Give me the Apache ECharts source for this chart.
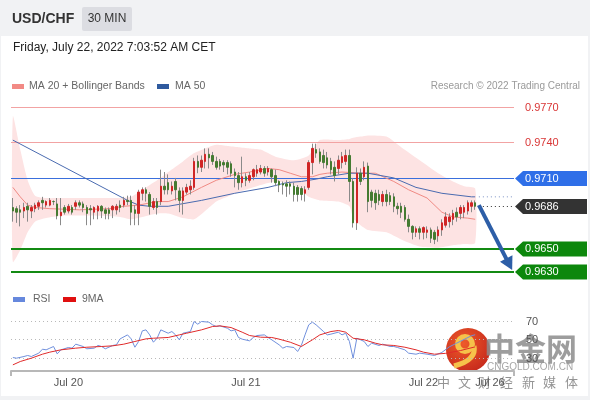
<!DOCTYPE html>
<html><head><meta charset="utf-8">
<script src="https://cdn.jsdelivr.net/npm/echarts@6/dist/echarts.min.js"></script>
<style>
html,body{margin:0;padding:0;background:#f1f2f4;}
#wrap{position:relative;width:590px;height:400px;overflow:hidden;}
#card{position:absolute;left:1px;top:36px;width:587px;height:360px;background:#fff;}
#c{position:absolute;left:0;top:0;width:590px;height:400px;}
</style>
</head><body>
<div id="wrap"><div id="card"></div><div id="c"></div></div>
<script>
// ---------- DATA ----------
// candles: [open, close, low, high]
const candles = [
[.9685,.9682,.9673,.9693],[.9684,.9681,.9672,.9686],[.9683,.9681,.9669,.9687],[.9682,.9685,.9676,.9689],
[.9686,.9683,.9673,.9689],[.9682,.9685,.9676,.9687],[.9684,.9687,.9681,.9689],[.9686,.9689,.9683,.9691],
[.9691,.9689,.9683,.9694],[.9687,.9690,.9685,.9691],[.9687,.9691,.9686,.9693],[.9690,.9690,.9687,.9691],
[.9688,.9678,.9675,.9693],[.9678,.9681,.9670,.9693],[.9685,.9681,.9679,.9687],[.9682,.9686,.9680,.9688],
[.9685,.9681,.9679,.9687],[.9686,.9689,.9683,.9691],[.9689,.9687,.9685,.9691],[.9688,.9685,.9681,.9690],
[.9685,.9680,.9670,.9687],[.9684,.9683,.9670,.9687],[.9681,.9685,.9675,.9686],[.9682,.9686,.9675,.9687],
[.9686,.9682,.9676,.9687],[.9683,.9680,.9675,.9685],[.9683,.9680,.9675,.9685],[.9683,.9686,.9676,.9687],
[.9683,.9686,.9679,.9688],[.9687,.9685,.9681,.9691],[.9687,.9691,.9685,.9694],[.9691,.9690,.9687,.9695],
[.9691,.9681,.9670,.9695],[.9683,.9680,.9670,.9687],[.9680,.9698,.9670,.9700],[.9697,.9700,.9691,.9702],
[.9700,.9697,.9690,.9702],[.9696,.9686,.9679,.9698],[.9685,.9690,.9683,.9693],[.9690,.9685,.9679,.9693],
[.9690,.9703,.9687,.9717],[.9703,.9700,.9696,.9715],[.9706,.9700,.9696,.9713],[.9699,.9703,.9696,.9707],
[.9707,.9700,.9691,.9710],[.9699,.9691,.9681,.9702],[.9691,.9699,.9679,.9702],[.9698,.9702,.9696,.9705],
[.9700,.9703,.9696,.9708],[.9702,.9724,.9700,.9727],[.9724,.9719,.9714,.9729],[.9719,.9725,.9715,.9729],
[.9724,.9730,.9718,.9735],[.9730,.9727,.9718,.9735],[.9729,.9724,.9721,.9732],[.9724,.9719,.9717,.9728],
[.9724,.9720,.9717,.9726],[.9723,.9721,.9715,.9725],[.9723,.9719,.9713,.9725],[.9722,.9714,.9711,.9724],
[.9715,.9712,.9702,.9718],[.9712,.9706,.9700,.9715],[.9706,.9711,.9702,.9728],[.9711,.9708,.9703,.9714],
[.9708,.9712,.9706,.9715],[.9711,.9717,.9708,.9718],[.9714,.9717,.9711,.9721],[.9715,.9718,.9713,.9721],
[.9718,.9714,.9711,.9720],[.9715,.9718,.9712,.9720],[.9717,.9711,.9706,.9718],[.9712,.9706,.9703,.9717],
[.9707,.9704,.9698,.9708],[.9705,.9704,.9696,.9707],[.9705,.9703,.9694,.9708],[.9705,.9703,.9696,.9707],
[.9703,.9696,.9690,.9706],[.9702,.9696,.9690,.9704],[.9701,.9696,.9691,.9703],[.9697,.9700,.9690,.9703],
[.9702,.9723,.9700,.9725],[.9723,.9735,.9713,.9739],[.9734,.9731,.9727,.9739],[.9732,.9724,.9722,.9735],
[.9729,.9723,.9718,.9734],[.9727,.9721,.9718,.9732],[.9724,.9717,.9713,.9727],[.9719,.9712,.9707,.9724],
[.9718,.9725,.9713,.9729],[.9723,.9728,.9718,.9732],[.9724,.9729,.9721,.9734],[.9729,.9707,.9690,.9734],
[.9707,.9672,.9668,.9710],[.9672,.9714,.9666,.9719],[.9714,.9707,.9704,.9718],[.9711,.9719,.9708,.9724],
[.9720,.9690,.9681,.9723],[.9698,.9691,.9685,.9700],[.9697,.9689,.9683,.9700],[.9696,.9691,.9687,.9700],
[.9690,.9696,.9686,.9699],[.9696,.9690,.9686,.9700],[.9695,.9690,.9687,.9698],[.9694,.9686,.9681,.9697],
[.9686,.9684,.9679,.9689],[.9686,.9681,.9676,.9689],[.9685,.9675,.9673,.9687],[.9675,.9669,.9664,.9679],
[.9669,.9664,.9658,.9670],[.9664,.9667,.9660,.9669],[.9667,.9664,.9658,.9669],[.9664,.9668,.9658,.9669],
[.9664,.9666,.9659,.9669],[.9666,.9659,.9655,.9668],[.9664,.9658,.9654,.9666],[.9661,.9666,.9656,.9669],
[.9666,.9672,.9661,.9675],[.9670,.9677,.9668,.9681],[.9673,.9677,.9668,.9680],[.9675,.9680,.9670,.9683],
[.9681,.9677,.9673,.9685],[.9680,.9685,.9675,.9687],[.9681,.9685,.9676,.9687],[.9682,.9689,.9679,.9691],
[.9686,.9689,.9681,.9691],[.9689,.9686,.9683,.9691]
];
// Bollinger bands read at these bar indices
const bandIdx   = [0,2,4,6,9,13,24,29,32,35,39,42,46,49,52,55,58,61,64,67,71,76,80,83,88,91,92,94,96,101,105,110,115,119,122,125];
const upperBand = [.9762,.9734,.9708,.9695,.9693,.9693,.9693,.9693,.9694,.9700,.9708,.9715,.9724,.9731,.9735,.9738,.9737,.9736,.9735,.9734,.9728,.9725,.9729,.9742,.9742,.9743,.9744,.9745,.9746,.9745,.9736,.9725,.9714,.9707,.9703,.9701];
const lowerBand = [.9639,.9649,.9664,.9673,.9676,.9678,.9678,.9677,.9675,.9677,.9680,.9680,.9676,.9675,.9682,.9690,.9694,.9698,.9701,.9704,.9707,.9704,.9694,.9691,.9690,.9686,.9676,.9670,.9666,.9664,.9658,.9652,.9651,.9653,.9654,.9655];
const ma20Idx = [0,2,4,6,10,18,26,30,34,39,42,46,51,55,60,64,69,72,75,78,81,83,85,89,94,98,103,107,112,116,119,123,125];
const ma20    = [.9702,.9694,.9687,.9685,.9684,.9683,.9684,.9686,.9687,.9690,.9690,.9694,.9702,.9708,.9713,.9715,.9718,.9717,.9714,.9711,.9711,.9713,.9714,.9715,.9714,.9714,.9707,.9700,.9693,.9681,.9677,.9676,.9675];
const ma50Idx = [0,31,34,37,42,51,60,69,74,78,82,85,91,96,103,109,116,124,125];
const ma50    = [.9742,.9691,.9687,.9686,.9686,.9691,.9697,.9702,.9706,.9707,.9709,.9711,.9714,.9714,.9710,.9702,.9697,.9694,.9694];
const rsiIdx = [0,1,3,4,5,7,8,9,10,11,12,13,15,16,17,19,20,22,23,24,25,27,28,29,31,32,33,34,35,36,37,38,39,40,42,43,44,45,46,48,49,50,51,53,54,55,56,58,59,60,61,62,64,65,66,68,69,70,72,73,74,76,77,78,79,80,81,82,84,85,86,88,89,90,91,92,93,94,95,96,97,99,100,102,103,104,106,107,109,110,112,114,116,118,120,122,124,125];
const rsi    = [30.5,29.8,31.6,32.7,31.6,35.2,39.5,38.8,40.6,42.4,34.5,38.8,41.3,40.6,44.9,42.4,39.9,40.6,43.5,42.4,39.9,43.5,44.2,50.6,54.9,50.6,41.6,47.8,59.2,60.3,54.9,47.0,51.3,60.3,56.7,58.5,54.9,49.6,56.7,58.5,69.3,66.4,69.3,68.6,65.7,63.9,64.6,62.1,59.2,60.3,52.1,50.3,48.5,52.1,54.2,54.9,52.1,49.6,44.2,40.6,42.4,41.3,37.0,43.5,54.9,65.7,68.6,65.7,58.5,54.9,55.7,57.8,54.9,56.7,47.8,29.8,51.3,49.6,47.8,42.4,46.0,43.5,44.9,42.4,42.4,41.3,38.8,35.2,34.1,35.2,34.1,32.7,36,42,46,50,54,55];
const rsiMaIdx = [0,2,5,8,10,13,17,20,24,27,30,33,36,38,42,45,47,51,54,56,59,62,64,67,70,72,75,78,81,83,86,88,90,92,95,98,100,103,106,109,111,114,117,121,125];
const rsiMa    = [22.6,26.2,29.8,34.1,36.3,38.8,40.6,41.6,42.4,43.1,44.9,47.8,50.6,51.3,52.1,54.9,56.7,60.3,63.9,64.6,62.8,57.8,54.2,52.4,52.1,50.3,47.0,42.4,49.6,54.9,58.5,59.6,57.8,51.3,49.6,46.0,44.2,43.5,41.6,38.8,36.3,34.1,35,38,42];
const dayLabels = ['Jul 20','Jul 21','Jul 22','Jul 26'];
const dayIdx    = [15,63,111,129];
const levels     = [0.9770,0.9740,0.9710,0.9686,0.9650,0.9630];
const levelKinds = ['res','res','ma','last','sup','sup'];
const rsiLevels  = [70,50,30];
const forecast   = [[126,0.9687],[135,0.9632]];
const N = 136;

// ---------- CHART ----------
const FONT = '"Liberation Sans", Arial, sans-serif';
const cats = Array.from({length:N},(_,i)=>String(i));
const bodies = candles.map(d=>[d[0],d[1],Math.min(d[0],d[1]),Math.max(d[0],d[1])]);
const pairs = (ix,v)=>ix.map((x,i)=>[x,v[i]]);
const ma50Last = ma50[ma50.length-1];

const chart = echarts.init(document.getElementById('c'), null, {renderer:'canvas', width:590, height:400});

function bandItem(params, api){
  const pts=[];
  for(let i=0;i<bandIdx.length;i++) pts.push(api.coord([bandIdx[i],upperBand[i]]));
  for(let i=bandIdx.length-1;i>=0;i--) pts.push(api.coord([bandIdx[i],lowerBand[i]]));
  return {type:'polygon', shape:{points:pts, smooth:0.2}, style:{fill:'#fde3e3', stroke:null}};
}
function tagShape(x1,y,fill){
  return {type:'polygon', shape:{points:[[x1+1,y],[x1+9,y-7.5],[x1+73,y-7.5],[x1+73,y+7.5],[x1+9,y+7.5]]}, style:{fill:fill}};
}
function levelItem(params, api){
  const cs=params.coordSys; const v=api.value(1);
  const kind=levelKinds[params.dataIndex];
  const x0=cs.x, x1=cs.x+cs.width;
  let y=api.coord([0,v])[1];
  const ch=[];
  const txt = v.toFixed(4);
  if(kind==='res'){
    y=Math.round(y)+0.5;
    ch.push({type:'line',shape:{x1:x0,y1:y,x2:x1,y2:y},style:{stroke:'#f2a3a3',lineWidth:1}});
    ch.push({type:'text',x:x1+11,y:y,style:{text:txt,fill:'#d93636',font:'11px '+FONT,verticalAlign:'middle'}});
  } else if(kind==='ma'){
    y=Math.round(y)+0.5;
    ch.push({type:'line',shape:{x1:x0,y1:y,x2:x1,y2:y},style:{stroke:'#3a6fdc',lineWidth:1}});
    ch.push(tagShape(x1,y,'#2f6fe8'));
    ch.push({type:'text',x:x1+11,y:y,style:{text:txt,fill:'#fff',font:'11px '+FONT,verticalAlign:'middle'}});
  } else if(kind==='last'){
    y=Math.round(y)+0.5;
    const xs=api.coord([126,v])[0];
    ch.push({type:'line',shape:{x1:xs,y1:y,x2:x1,y2:y},style:{stroke:'#333',lineWidth:1,lineDash:[1,3]}});
    ch.push(tagShape(x1,y,'#333333'));
    ch.push({type:'text',x:x1+11,y:y,style:{text:txt,fill:'#fff',font:'11px '+FONT,verticalAlign:'middle'}});
  } else {
    y=Math.round(y);
    ch.push({type:'line',shape:{x1:x0,y1:y,x2:x1,y2:y},style:{stroke:'#138a13',lineWidth:2}});
    ch.push(tagShape(x1,y,'#0c870c'));
    ch.push({type:'text',x:x1+11,y:y,style:{text:txt,fill:'#fff',font:'11px '+FONT,verticalAlign:'middle'}});
  }
  return {type:'group',children:ch};
}
function arrowItem(params, api){
  const p0=api.coord(forecast[0]), p1=api.coord(forecast[1]);
  const dx=p1[0]-p0[0], dy=p1[1]-p0[1], L=Math.hypot(dx,dy);
  const ux=dx/L, uy=dy/L, nx=-uy, ny=ux;
  const hl=13, hw=7;
  const bx=p1[0]-ux*hl, by=p1[1]-uy*hl;
  return {type:'group',children:[
    {type:'line',shape:{x1:p0[0],y1:p0[1],x2:bx+ux*2,y2:by+uy*2},style:{stroke:'#2d5ea7',lineWidth:4}},
    {type:'polygon',shape:{points:[[p1[0],p1[1]],[bx+nx*hw,by+ny*hw],[bx-nx*hw,by-ny*hw]]},style:{fill:'#2d5ea7'}}
  ]};
}
function rsiLevelItem(params, api){
  const cs=params.coordSys; const v=api.value(1);
  const x0=cs.x, x1=cs.x+cs.width;
  const y=Math.round(api.coord([0,v])[1])+0.5;
  return {type:'group',children:[
    {type:'line',shape:{x1:x0,y1:y,x2:x1-2,y2:y},style:{stroke:'#b9b9b9',lineWidth:1,lineDash:[1,3]}},
    {type:'text',x:x1+12,y:y,style:{text:String(v),fill:'#555',font:'11px '+FONT,verticalAlign:'middle'}}
  ]};
}

const option = {
  animation:false,
  backgroundColor:'transparent',
  grid:[
    {left:11,right:76,top:95.2,height:189.1},
    {left:11,right:76,top:293,height:78}
  ],
  xAxis:[
    {type:'category',gridIndex:0,data:cats,boundaryGap:true,show:false},
    {type:'category',gridIndex:1,data:cats,boundaryGap:true,
      axisLine:{show:true,lineStyle:{color:'#b8b8b8',width:2}},
      axisTick:{show:true,interval:(i)=>i===0,length:5,lineStyle:{color:'#b8b8b8',width:2}},
      axisLabel:{show:true,interval:(i)=>dayIdx.indexOf(i)>=0,margin:6,color:'#555',fontSize:11,fontFamily:FONT,
        formatter:(v)=>{const k=dayIdx.indexOf(+v);return k>=0?dayLabels[k]:'';}},
      splitLine:{show:false}}
  ],
  yAxis:[
    {type:'value',gridIndex:0,min:0.9620,max:0.9780,show:false},
    {type:'value',gridIndex:1,min:16,max:100,show:false}
  ],
  series:[
    {type:'custom',name:'band',xAxisIndex:0,yAxisIndex:0,data:[[0,0.97]],renderItem:bandItem,z:1,silent:true},
    {type:'custom',name:'levels',xAxisIndex:0,yAxisIndex:0,data:levels.map(v=>[0,v]),renderItem:levelItem,z:2,silent:true},
    {type:'line',name:'MA 20',xAxisIndex:0,yAxisIndex:0,data:pairs(ma20Idx,ma20),symbol:'none',lineStyle:{color:'#f08a84',width:1},z:3,silent:true},
    {type:'line',name:'MA 50',xAxisIndex:0,yAxisIndex:0,data:pairs(ma50Idx,ma50),symbol:'none',lineStyle:{color:'#4a6bb0',width:1},z:3,silent:true},
    {type:'line',name:'MA 50 ext',xAxisIndex:0,yAxisIndex:0,data:[[126,ma50Last],[135,ma50Last]],symbol:'none',lineStyle:{color:'#7a90c4',width:1,type:[1,3]},z:3,silent:true},
    {type:'candlestick',name:'wick',xAxisIndex:0,yAxisIndex:0,data:candles,barWidth:0.1,z:4,silent:true,
      itemStyle:{color:'#8a8a8a',color0:'#8a8a8a',borderColor:'#8a8a8a',borderColor0:'#8a8a8a',borderWidth:1}},
    {type:'candlestick',name:'body',xAxisIndex:0,yAxisIndex:0,data:bodies,barWidth:2,z:5,silent:true,
      itemStyle:{color:'#d02626',color0:'#457b32',borderColor:'#d02626',borderColor0:'#457b32',borderWidth:1}},
    {type:'custom',name:'arrow',xAxisIndex:0,yAxisIndex:0,data:[[0,0.97]],renderItem:arrowItem,z:6,silent:true},
    {type:'custom',name:'rsiLevels',xAxisIndex:1,yAxisIndex:1,data:rsiLevels.map(v=>[0,v]),renderItem:rsiLevelItem,z:1,silent:true},
    {type:'line',name:'RSI',xAxisIndex:1,yAxisIndex:1,data:pairs(rsiIdx,rsi),symbol:'none',lineStyle:{color:'#6f8fdc',width:1},z:3,silent:true},
    {type:'line',name:'9MA',xAxisIndex:1,yAxisIndex:1,data:pairs(rsiMaIdx,rsiMa),symbol:'none',lineStyle:{color:'#e02a2a',width:1},z:4,silent:true}
  ],
  graphic:[
    {type:'text',left:12,top:12,style:{text:'USD/CHF',font:'bold 14px '+FONT,fill:'#333'}},
    {type:'rect',shape:{x:82,y:7,width:50,height:24,r:2},style:{fill:'#dcdde2'}},
    {type:'text',x:107,y:19,style:{text:'30 MIN',font:'12px '+FONT,fill:'#333',align:'center',verticalAlign:'middle'}},
    {type:'text',x:13,y:48,style:{text:'Friday, July 22, 2022 7:03:52 AM CET',font:'12px '+FONT,fill:'#222',verticalAlign:'middle'}},
    {type:'rect',shape:{x:12,y:84,width:12,height:5},style:{fill:'#f28a85'}},
    {type:'text',x:29,y:86.5,style:{text:'MA 20 + Bollinger Bands',font:'10.5px '+FONT,fill:'#666',verticalAlign:'middle'}},
    {type:'rect',shape:{x:157,y:84,width:12,height:5},style:{fill:'#2f5a9e'}},
    {type:'text',x:175,y:86.5,style:{text:'MA 50',font:'10.5px '+FONT,fill:'#666',verticalAlign:'middle'}},
    {type:'text',x:580,y:86.5,style:{text:'Research \u00a9 2022 Trading Central',font:'10px '+FONT,fill:'#9a9a9a',align:'right',verticalAlign:'middle'}},
    {type:'rect',shape:{x:13,y:297,width:12,height:5},style:{fill:'#6688dd'}},
    {type:'text',x:33,y:299.5,style:{text:'RSI',font:'10.5px '+FONT,fill:'#666',verticalAlign:'middle'}},
    {type:'rect',shape:{x:63,y:297,width:13,height:5},style:{fill:'#e01010'}},
    {type:'text',x:82,y:299.5,style:{text:'9MA',font:'10.5px '+FONT,fill:'#666',verticalAlign:'middle'}},
    // watermark
    {type:'group',z:100,children:[
      {type:'circle',shape:{cx:468,cy:350,r:22},style:{fill:new echarts.graphic.RadialGradient(0.4,0.35,0.8,[{offset:0,color:'#ee5a2a'},{offset:1,color:'#c0221a'}])}},
      {type:'ring',shape:{cx:465,cy:344,r:10,r0:4.5},style:{fill:'#f6c24a'}},
      {type:'bezierCurve',shape:{x1:474,y1:346,x2:454,y2:366,cpx1:477,cpy1:360},style:{stroke:'#f6c24a',lineWidth:5,fill:null}},
      {type:'text',x:484,y:348,style:{text:'中金网',font:'bold 31px "Noto Sans CJK SC"',fill:'rgba(140,140,140,0.85)',verticalAlign:'middle'}},
      {type:'text',x:487,y:367,style:{text:'CNGOLD.COM.CN',font:'10px '+FONT,fill:'rgba(150,150,150,0.85)',verticalAlign:'middle'}},
      {type:'text',x:437,y:382,style:{text:'中',font:'13px "Noto Sans CJK SC"',fill:'rgba(120,120,120,0.8)',verticalAlign:'middle'}},
      {type:'text',x:458,y:382,style:{text:'文',font:'13px "Noto Sans CJK SC"',fill:'rgba(120,120,120,0.8)',verticalAlign:'middle'}},
      {type:'text',x:478,y:382,style:{text:'财',font:'13px "Noto Sans CJK SC"',fill:'rgba(120,120,120,0.8)',verticalAlign:'middle'}},
      {type:'text',x:500,y:382,style:{text:'经',font:'13px "Noto Sans CJK SC"',fill:'rgba(120,120,120,0.8)',verticalAlign:'middle'}},
      {type:'text',x:522,y:382,style:{text:'新',font:'13px "Noto Sans CJK SC"',fill:'rgba(120,120,120,0.8)',verticalAlign:'middle'}},
      {type:'text',x:543,y:382,style:{text:'媒',font:'13px "Noto Sans CJK SC"',fill:'rgba(120,120,120,0.8)',verticalAlign:'middle'}},
      {type:'text',x:565,y:382,style:{text:'体',font:'13px "Noto Sans CJK SC"',fill:'rgba(120,120,120,0.8)',verticalAlign:'middle'}}
    ]}
  ]
};
chart.setOption(option);
</script>
</body></html>
